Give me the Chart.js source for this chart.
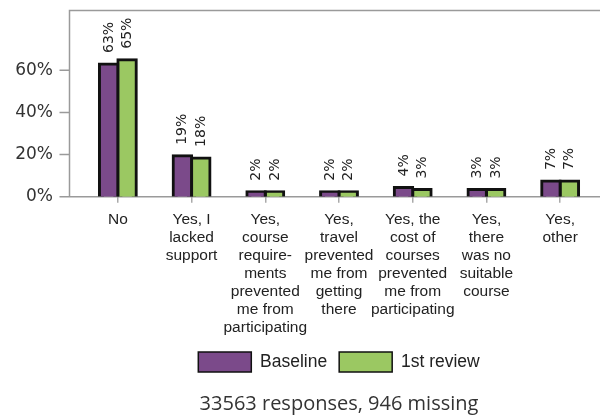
<!DOCTYPE html>
<html>
<head>
<meta charset="utf-8">
<script src="https://cdn.jsdelivr.net/npm/chart.js@4/dist/chart.umd.min.js"></script>
<style>
  html, body { margin: 0; padding: 0; background: #fff; }
  #wrap { width: 600px; height: 416px; }
</style>
</head>
<body>
<div id="wrap"><canvas id="c" width="600" height="416"></canvas></div>
<script>
const categories = [
  ["No"],
  ["Yes, I", "lacked", "support"],
  ["Yes,", "course", "require-", "ments", "prevented", "me from", "participating"],
  ["Yes,", "travel", "prevented", "me from", "getting", "there"],
  ["Yes, the", "cost of", "courses", "prevented", "me from", "participating"],
  ["Yes,", "there", "was no", "suitable", "course"],
  ["Yes,", "other"]
];
const seriesNames = ["Baseline", "1st review"];
const baseline = [63, 19.4, 2.4, 2.4, 4.4, 3.4, 7.4];
const review = [65, 18.4, 2.4, 2.4, 3.4, 3.4, 7.4];
const yTicks = [0, 20, 40, 60];
const yMax = 88.6;
const caption = "33563 responses, 946 missing";

const purple = "#7b4a8a";
const green = "#9bc862";
const frameColor = "#9a9a9a";

const framePlugin = {
  id: "frame",
  beforeDatasetsDraw(chart) {
    const { ctx, chartArea: a, scales: { y } } = chart;
    const fx = a.left - 11.5;
    ctx.save();
    ctx.strokeStyle = frameColor;
    ctx.lineWidth = 1.5;
    ctx.beginPath();
    ctx.moveTo(chart.width, a.top + 0.5);
    ctx.lineTo(fx, a.top + 0.5);
    ctx.lineTo(fx, a.bottom);
    ctx.lineTo(chart.width, a.bottom);
    yTicks.forEach(v => {
      const py = y.getPixelForValue(v);
      ctx.moveTo(fx - 10, py);
      ctx.lineTo(fx, py);
    });
    ctx.stroke();
    ctx.restore();
  }
};

const labelPlugin = {
  id: "barLabels",
  afterDatasetsDraw(chart) {
    const { ctx } = chart;
    ctx.save();
    ctx.font = "14px 'DejaVu Sans'";
    ctx.fillStyle = "#222";
    ctx.textAlign = "left";
    ctx.textBaseline = "middle";
    chart.data.datasets.forEach((ds, di) => {
      const meta = chart.getDatasetMeta(di);
      meta.data.forEach((bar, i) => {
        ctx.save();
        ctx.translate(bar.x + 0.5, bar.y - 11);
        ctx.rotate(-Math.PI / 2);
        ctx.fillText(Math.round(ds.data[i]) + "%", 0, 0);
        ctx.restore();
      });
    });
    ctx.restore();
  }
};

new Chart(document.getElementById("c"), {
  type: "bar",
  data: {
    labels: categories,
    datasets: [
      { label: seriesNames[0], data: baseline, backgroundColor: purple },
      { label: seriesNames[1], data: review, backgroundColor: green }
    ]
  },
  options: {
    responsive: false,
    animation: false,
    devicePixelRatio: 1,
    layout: { padding: { top: 10, right: 3, left: 0, bottom: 0 } },
    datasets: {
      bar: {
        borderColor: "#111",
        borderWidth: 3,
        inflateAmount: 1.5,
        categoryPercentage: 0.5,
        barPercentage: 1.0
      }
    },
    scales: {
      x: {
        offset: true,
        border: { display: false },
        grid: { display: true, drawOnChartArea: false, drawTicks: true, tickLength: 6, offset: false, color: "#aaa", lineWidth: 1.5 },
        ticks: {
          autoSkip: false, maxRotation: 0, minRotation: 0, padding: 8,
          color: "#222",
          font: { family: "'Liberation Sans', Arial, sans-serif", size: 15.5, lineHeight: "18px" }
        },
        afterFit(s) { s.height = 143.3; s.paddingLeft = 0; s.paddingRight = 0; }
      },
      y: {
        min: 0, max: yMax,
        border: { display: false },
        grid: { display: false, drawTicks: false },
        afterBuildTicks(s) { s.ticks = yTicks.map(v => ({ value: v })); },
        ticks: {
          padding: 28,
          color: "#333",
          font: { family: "'DejaVu Sans', sans-serif", size: 17 },
          callback: v => v + "%"
        },
        afterFit(s) { s.width = 81; s.paddingTop = 0; s.paddingBottom = 0; }
      }
    },
    plugins: {
      tooltip: { enabled: false },
      legend: {
        position: "bottom",
        fullSize: false,
        labels: {
          boxWidth: 53, boxHeight: 20, padding: 12,
          color: "#222",
          font: { family: "'Liberation Sans', Arial, sans-serif", size: 17.5 },
          generateLabels(chart) {
            return Chart.defaults.plugins.legend.labels.generateLabels(chart).map(l => Object.assign(l, { lineWidth: 1.5, strokeStyle: "#111" }));
          }
        }
      },
      subtitle: {
        display: true,
        position: "bottom",
        fullSize: false,
        text: caption,
        color: "#333",
        font: { family: "'Open Sans', sans-serif", size: 20, weight: "normal", lineHeight: 1.2 },
        padding: { top: 10, bottom: 0 }
      }
    }
  },
  plugins: [framePlugin, labelPlugin]
});
</script>
</body>
</html>
